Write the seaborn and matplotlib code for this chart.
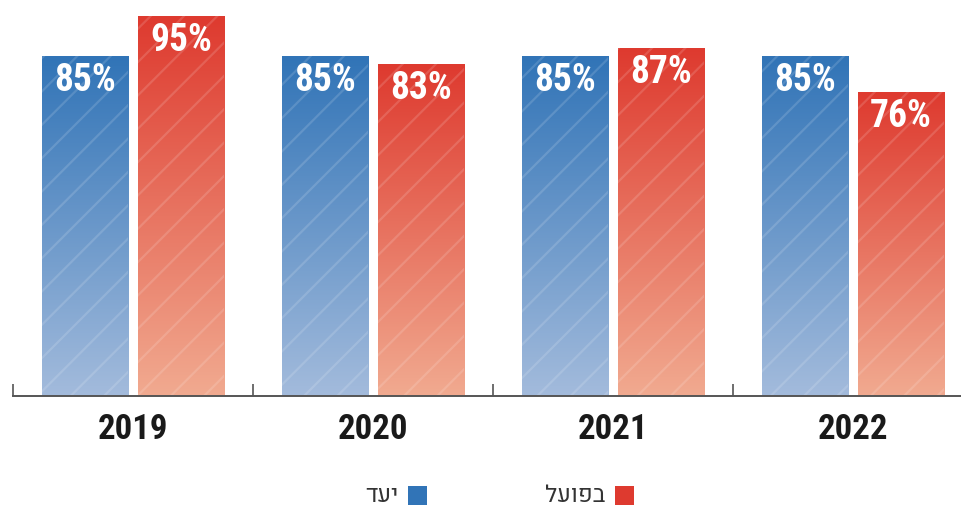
import numpy as np
import pandas as pd
import matplotlib
matplotlib.use("Agg")
import matplotlib.pyplot as plt
import seaborn as sns
from matplotlib.colors import LinearSegmentedColormap
from matplotlib.patches import Rectangle

# Data
years = ["2019", "2020", "2021", "2022"]
target = [85, 85, 85, 85]      # יעד
actual = [95, 83, 87, 76]      # בפועל
series_names = ["יעד", "בפועל"]

df = pd.DataFrame({
    "year": years * 2,
    "series": [series_names[0]] * len(years) + [series_names[1]] * len(years),
    "value": target + actual,
})

sns.set_theme(style="white")
plt.rcParams["font.family"] = ["Roboto Condensed", "DejaVu Sans"]
plt.rcParams["hatch.linewidth"] = 1.6

NUM_FONT = ["Roboto Condensed", "DejaVu Sans"]
HEB_FONT = ["Heebo", "DejaVu Sans"]

fig = plt.figure(figsize=(9.62, 5.12), dpi=100)
ax = fig.add_axes([13 / 962, 116 / 512, 960 / 962, 396 / 512])

blue_top, blue_bot = "#3174b7", "#a3bbdc"
red_top, red_bot = "#de3a2f", "#f1aa90"
palette = {series_names[0]: blue_top, series_names[1]: red_top}

sns.barplot(data=df, x="year", y="value", hue="series", palette=palette,
            width=0.8, gap=0.1, ax=ax, legend=False, saturation=1)

ax.set_xlim(-0.5, 3.5)
ax.set_ylim(0, 99)

cmaps = {
    blue_top: LinearSegmentedColormap.from_list("b", [blue_bot, blue_top]),
    red_top: LinearSegmentedColormap.from_list("r", [red_bot, red_top]),
}
grad = np.linspace(0, 1, 256).reshape(-1, 1)

# Vertical gradient fill plus faint diagonal stripes on every bar
for bar in list(ax.patches):
    x0, y0 = bar.get_x(), bar.get_y()
    w, h = bar.get_width(), bar.get_height()
    fc = matplotlib.colors.to_hex(bar.get_facecolor())
    cmap = cmaps[blue_top] if fc.lower() == blue_top else cmaps[red_top]
    img = ax.imshow(grad, cmap=cmap, origin="lower", aspect="auto",
                    extent=(x0, x0 + w, y0, y0 + h), zorder=1,
                    interpolation="bicubic")
    img.set_clip_path(bar)
    bar.set_facecolor("none")
    bar.set_edgecolor((1, 1, 1, 0.14))
    bar.set_linewidth(0)
    bar.set_hatch("/")
    bar.set_zorder(2)
    ax.text(x0 + w / 2, y0 + h - 6.2, f"{h:.0f}%", ha="center", va="center",
            color="white", fontsize=27, fontweight="bold",
            family=NUM_FONT, zorder=3)

# Axis styling
for s in ["top", "left", "right"]:
    ax.spines[s].set_visible(False)
ax.spines["bottom"].set_color("#555555")
ax.spines["bottom"].set_linewidth(1.4)
ax.set_yticks([])
ax.set_xlabel("")
ax.set_ylabel("")
ax.set_xticks(range(len(years)))
ax.set_xticklabels(years, fontsize=25, fontweight="bold", color="#1a1a1a",
                   family=NUM_FONT)
ax.tick_params(axis="x", which="major", length=0, pad=12, bottom=True)
ax.set_xticks([-0.5, 0.5, 1.5, 2.5], minor=True)
ax.tick_params(axis="x", which="minor", direction="in", length=9,
               width=1.2, color="#555555", bottom=True)

# Legend (labels written right-to-left, swatch on the right)
def rtl(s):
    return s[::-1]

legend_items = [(series_names[0], blue_top, 408), (series_names[1], red_top, 615)]
for label, color, sx in legend_items:
    fig.patches.append(Rectangle((sx / 962, 1 - 505 / 512), 19 / 962, 19 / 512,
                                 transform=fig.transFigure, facecolor=color,
                                 edgecolor="none"))
    fig.text((sx - 10) / 962, 1 - 496 / 512, rtl(label), ha="right", va="center",
             fontsize=17, color="#333333", family=HEB_FONT)

fig.savefig("out.png", dpi=100)
